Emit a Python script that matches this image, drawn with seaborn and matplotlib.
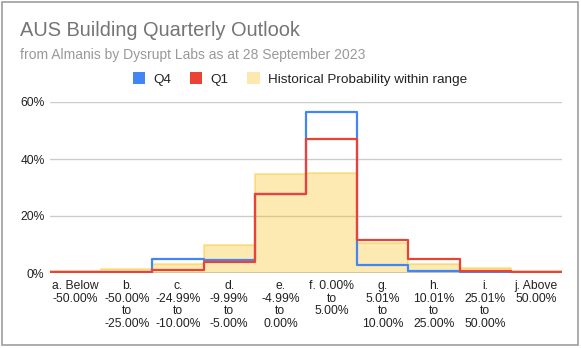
import matplotlib
matplotlib.use("Agg")
import numpy as np
import pandas as pd
import seaborn as sns
import matplotlib.pyplot as plt
from matplotlib.patches import Patch, Rectangle

# ---- data ----
categories = [
    "a. Below\n-50.00%",
    "b.\n-50.00%\nto\n-25.00%",
    "c.\n-24.99%\nto\n-10.00%",
    "d.\n-9.99%\nto\n-5.00%",
    "e.\n-4.99%\nto\n0.00%",
    "f. 0.00%\nto\n5.00%",
    "g.\n5.01%\nto\n10.00%",
    "h.\n10.01%\nto\n25.00%",
    "i.\n25.01%\nto\n50.00%",
    "j. Above\n50.00%",
]
q4 = [0.5, 0.4, 4.9, 4.6, 27.8, 56.4, 2.8, 0.8, 0.4, 0.3]
q1 = [0.5, 0.4, 1.2, 4.0, 27.8, 47.0, 11.7, 4.8, 0.7, 0.4]
hist = [0.8, 1.5, 3.0, 9.9, 34.8, 35.0, 10.4, 3.0, 1.6, 0.8]
yticks = [0, 20, 40, 60]
title = "AUS Building Quarterly Outlook"
subtitle = "from Almanis by Dysrupt Labs as at 28 September 2023"
legend_labels = ["Q4", "Q1", "Historical Probability within range"]

# ---- style ----
sns.set_style("white")
plt.rcParams["font.family"] = ["Liberation Sans", "DejaVu Sans"]

BLUE = "#4285F4"
RED = "#EA4335"
YEL = "#fbbc04"

W, H = 581, 348
fig = plt.figure(figsize=(W / 100, H / 100), dpi=100)
ax = fig.add_axes([50 / W, 75 / H, 512 / W, 171 / H])

n = len(categories)
df = pd.DataFrame({
    "edge": np.arange(n + 1),
    "Q4": q4 + [q4[-1]],
    "Q1": q1 + [q1[-1]],
    "hist": hist + [hist[-1]],
})

# gridlines
for v in yticks[1:]:
    ax.axhline(v, color="#cccccc", lw=1.0, zorder=0)

# historical filled step area
ax.fill_between(df["edge"], df["hist"], step="post", color=YEL, alpha=0.3, lw=0, zorder=1)
sns.lineplot(data=df, x="edge", y="hist", drawstyle="steps-post", color=YEL, alpha=0.35,
             lw=1.5, ax=ax, zorder=2)

# baseline
ax.axhline(0, color="#333333", lw=1.0, zorder=2.5)

sns.lineplot(data=df, x="edge", y="Q4", drawstyle="steps-post", color=BLUE, lw=1.6,
             ax=ax, zorder=3, solid_joinstyle="round")
sns.lineplot(data=df, x="edge", y="Q1", drawstyle="steps-post", color=RED, lw=1.6,
             ax=ax, zorder=4, solid_joinstyle="round")

ax.set_xlim(0, n)
ax.set_ylim(0, 60)
ax.set_xticks(np.arange(n) + 0.5)
ax.set_xticklabels(categories, fontsize=8.7, color="#222222", linespacing=1.08)
ax.set_yticks(yticks)
ax.set_yticklabels([f"{v}%" for v in yticks], fontsize=8.7, color="#222222")
ax.tick_params(axis="both", length=0)
ax.tick_params(axis="x", pad=5)
ax.tick_params(axis="y", pad=4)
ax.set_xlabel("")
ax.set_ylabel("")
for s in ax.spines.values():
    s.set_visible(False)
ax.set_facecolor("none")

# titles
fig.text(20 / W, 1 - 36 / H, title, fontsize=14.4, color="#757575", va="baseline", ha="left")
fig.text(20 / W, 1 - 59 / H, subtitle, fontsize=10, color="#999999", va="baseline", ha="left")

# legend
handles = [
    Patch(facecolor=BLUE, edgecolor="none"),
    Patch(facecolor=RED, edgecolor="none"),
    Patch(facecolor="#fde8b0", edgecolor="none"),
]
fig.legend(handles, legend_labels, loc="center", bbox_to_anchor=(300 / W, 1 - 79 / H),
           ncol=3, frameon=False, fontsize=9.7, handlelength=0.9, handleheight=0.9,
           handletextpad=0.6, columnspacing=1.4, labelcolor="#222222")

# outer border
fig.add_artist(Rectangle((2 / W, 3 / H), 576 / W, 343 / H, transform=fig.transFigure,
                         fill=False, edgecolor="#9e9e9e", lw=1.2))

fig.savefig("out.png", dpi=100)
